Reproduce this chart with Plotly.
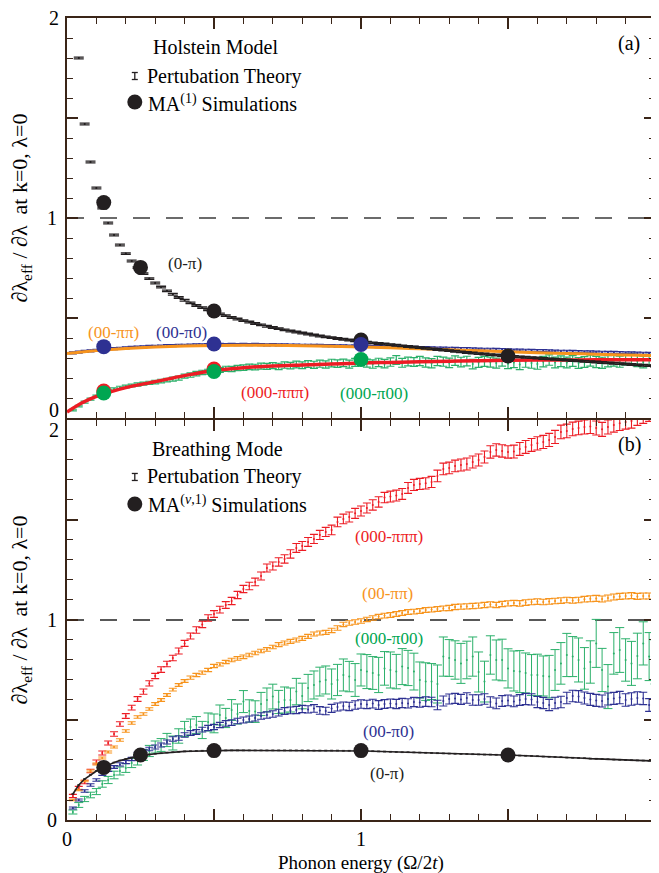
import plotly.graph_objects as go

# ---------------- data ----------------
phonon = [round(0.02 * k, 2) for k in range(1, 101)]  # PT sampling grid 0.02..2.00

# Panel (a) Holstein model
hol_black_pt = [None, 1.80, 1.47, 1.28, 1.15, 1.05, 0.975, 0.915, 0.865, 0.822,
                0.785, 0.752, 0.722, 0.697, 0.675, 0.655, 0.636, 0.619, 0.603, 0.589,
                0.576, 0.563, 0.552, 0.541, 0.531, 0.521, 0.512, 0.503, 0.495, 0.487,
                0.480, 0.473, 0.466, 0.459, 0.453, 0.447, 0.441, 0.435, 0.430, 0.425,
                0.420, 0.415, 0.410, 0.406, 0.402, 0.398, 0.394, 0.390, 0.386, 0.382,
                0.379, 0.376, 0.373, 0.370, 0.367, 0.364, 0.361, 0.358, 0.355, 0.352,
                0.349, 0.346, 0.343, 0.340, 0.337, 0.334, 0.331, 0.328, 0.325, 0.322,
                0.320, 0.317, 0.315, 0.312, 0.310, 0.308, 0.306, 0.304, 0.302, 0.300,
                0.298, 0.296, 0.294, 0.292, 0.290, 0.288, 0.286, 0.284, 0.282, 0.280,
                0.278, 0.276, 0.274, 0.272, 0.270, 0.268, 0.266, 0.264, 0.262, 0.260]

hol_blue_pt = [0.326, 0.330, 0.333, 0.336, 0.339, 0.342, 0.345, 0.347, 0.349, 0.351,
               0.353, 0.355, 0.356, 0.358, 0.359, 0.360, 0.362, 0.362, 0.364, 0.364,
               0.365, 0.366, 0.366, 0.367, 0.367, 0.368, 0.367, 0.368, 0.367, 0.368,
               0.367, 0.368, 0.367, 0.366, 0.367, 0.366, 0.366, 0.365, 0.365, 0.364,
               0.364, 0.363, 0.363, 0.362, 0.362, 0.361, 0.361, 0.360, 0.360, 0.359,
               0.358, 0.358, 0.357, 0.356, 0.356, 0.355, 0.354, 0.354, 0.353, 0.352,
               0.352, 0.351, 0.350, 0.350, 0.349, 0.348, 0.347, 0.347, 0.346, 0.345,
               0.344, 0.344, 0.343, 0.342, 0.341, 0.340, 0.340, 0.339, 0.338, 0.337,
               0.337, 0.336, 0.335, 0.334, 0.334, 0.333, 0.332, 0.331, 0.331, 0.330,
               0.329, 0.328, 0.328, 0.327, 0.326, 0.326, 0.325, 0.324, 0.323, 0.323]

hol_green_pt = [0.040, 0.060, 0.080, 0.095, 0.110, 0.125, 0.135, 0.145, 0.152, 0.158,
                0.163, 0.168, 0.172, 0.176, 0.180, 0.185, 0.190, 0.195, 0.200, 0.210,
                0.215, 0.222, 0.228, 0.232, 0.236, 0.240, 0.246, 0.245, 0.250, 0.252,
                0.256, 0.255, 0.260, 0.258, 0.262, 0.258, 0.265, 0.262, 0.268, 0.264,
                0.270, 0.266, 0.272, 0.268, 0.275, 0.272, 0.276, 0.270, 0.278, 0.282,
                0.275, 0.270, 0.278, 0.272, 0.280, 0.290, 0.276, 0.283, 0.280, 0.285,
                0.278, 0.274, 0.285, 0.282, 0.276, 0.287, 0.280, 0.285, 0.270, 0.278,
                0.283, 0.280, 0.275, 0.285, 0.272, 0.278, 0.268, 0.280, 0.275, 0.270,
                0.282, 0.290, 0.278, 0.284, 0.278, 0.285, 0.275, 0.280, 0.287, 0.280,
                0.276, 0.284, 0.288, 0.282, 0.292, 0.296, 0.285, 0.280, 0.290, 0.285]
hol_green_err = [0.004, 0.004, 0.005, 0.005, 0.005, 0.006, 0.006, 0.006, 0.007, 0.007,
                 0.007, 0.008, 0.008, 0.008, 0.009, 0.009, 0.009, 0.010, 0.010, 0.010,
                 0.011, 0.011, 0.011, 0.012, 0.012, 0.012, 0.013, 0.013, 0.013, 0.014,
                 0.014, 0.014, 0.015, 0.015, 0.015, 0.016, 0.016, 0.016, 0.017, 0.017,
                 0.017, 0.018, 0.018, 0.018, 0.019, 0.019, 0.019, 0.020, 0.020, 0.020,
                 0.020, 0.021, 0.021, 0.021, 0.021, 0.022, 0.022, 0.022, 0.022, 0.023,
                 0.023, 0.023, 0.023, 0.023, 0.024, 0.024, 0.024, 0.024, 0.024, 0.025,
                 0.025, 0.025, 0.025, 0.025, 0.025, 0.026, 0.026, 0.026, 0.026, 0.026,
                 0.026, 0.026, 0.027, 0.027, 0.027, 0.027, 0.027, 0.027, 0.027, 0.028,
                 0.028, 0.028, 0.028, 0.028, 0.028, 0.028, 0.028, 0.029, 0.029, 0.029]

line_x = [0, 0.05, 0.1, 0.15, 0.2, 0.3, 0.4, 0.5, 0.6, 0.7, 0.8, 0.9, 1.0,
          1.1, 1.2, 1.3, 1.4, 1.5, 1.6, 1.7, 1.8, 1.9, 2.0]
hol_orange_line = [0.322, 0.330, 0.337, 0.343, 0.348, 0.355, 0.360, 0.363, 0.364, 0.364,
                   0.362, 0.359, 0.355, 0.351, 0.346, 0.341, 0.336, 0.332, 0.327, 0.323,
                   0.319, 0.315, 0.312]
hol_red_line = [0.030, 0.075, 0.108, 0.132, 0.152, 0.182, 0.212, 0.238, 0.252, 0.260,
                0.265, 0.270, 0.275, 0.278, 0.281, 0.284, 0.287, 0.289, 0.290, 0.290,
                0.291, 0.291, 0.292]

ma_black_x = [0.125, 0.25, 0.5, 1.0, 1.5]
hol_ma_black = [1.077, 0.753, 0.535, 0.39, 0.31]
ma_three_x = [0.125, 0.5, 1.0]
hol_ma_blue = [0.357, 0.37, 0.368]
hol_ma_green = [0.125, 0.233, 0.293]
ma_two_x = [0.125, 0.5]
hol_ma_red = [0.135, 0.245]

# Panel (b) Breathing mode
br_red_pt = [0.12, 0.16, 0.19, 0.245, 0.29, 0.335, 0.385, 0.43, 0.48, 0.52,
             0.562, 0.605, 0.642, 0.683, 0.72, 0.752, 0.78, 0.81, 0.845, 0.883,
             0.92, 0.95, 0.978, 1.01, 1.03, 1.052, 1.075, 1.095, 1.125, 1.155,
             1.17, 1.19, 1.22, 1.26, 1.27, 1.29, 1.305, 1.33, 1.36, 1.37,
             1.39, 1.405, 1.425, 1.44, 1.45, 1.49, 1.505, 1.515, 1.533, 1.545,
             1.56, 1.575, 1.59, 1.612, 1.617, 1.622, 1.63, 1.66, 1.675, 1.68,
             1.683, 1.69, 1.72, 1.755, 1.76, 1.77, 1.775, 1.78, 1.79, 1.80,
             1.815, 1.84, 1.85, 1.845, 1.84, 1.842, 1.855, 1.865, 1.875, 1.883,
             1.89, 1.90, 1.915, 1.94, 1.945, 1.955, 1.96, 1.965, 1.967, 1.96,
             1.953, 1.965, 1.975, 1.983, 1.99, 1.995, 2.01, 2.02, 2.03, 2.04]
br_red_err = [0.008, 0.008, 0.009, 0.009, 0.010, 0.010, 0.010, 0.011, 0.011, 0.012,
              0.012, 0.012, 0.013, 0.013, 0.013, 0.014, 0.014, 0.014, 0.015, 0.015,
              0.015, 0.016, 0.016, 0.016, 0.017, 0.017, 0.017, 0.018, 0.018, 0.018,
              0.019, 0.019, 0.020, 0.020, 0.020, 0.021, 0.021, 0.021, 0.022, 0.022,
              0.022, 0.023, 0.023, 0.023, 0.024, 0.024, 0.024, 0.025, 0.025, 0.025,
              0.025, 0.026, 0.026, 0.026, 0.027, 0.027, 0.027, 0.027, 0.028, 0.028,
              0.028, 0.028, 0.029, 0.029, 0.029, 0.029, 0.030, 0.030, 0.030, 0.030,
              0.030, 0.031, 0.031, 0.031, 0.031, 0.032, 0.032, 0.032, 0.032, 0.033,
              0.033, 0.033, 0.033, 0.034, 0.034, 0.034, 0.034, 0.035, 0.035, 0.035,
              0.035, 0.035, 0.036, 0.036, 0.036, 0.036, 0.037, 0.037, 0.037, 0.037]

br_orange_pt = [0.10, 0.15, 0.195, 0.245, 0.28, 0.31, 0.34, 0.365, 0.40, 0.445,
                0.485, 0.515, 0.53, 0.555, 0.58, 0.60, 0.625, 0.652, 0.675, 0.695,
                0.712, 0.725, 0.737, 0.75, 0.77, 0.778, 0.79, 0.80, 0.808, 0.816,
                0.825, 0.835, 0.845, 0.853, 0.865, 0.877, 0.885, 0.893, 0.90, 0.908,
                0.918, 0.93, 0.935, 0.938, 0.948, 0.96, 0.978, 0.985, 0.99, 0.995,
                1.003, 1.01, 1.017, 1.022, 1.025, 1.03, 1.035, 1.04, 1.042, 1.045,
                1.05, 1.052, 1.055, 1.058, 1.06, 1.065, 1.067, 1.068, 1.07, 1.072,
                1.075, 1.078, 1.075, 1.08, 1.083, 1.085, 1.083, 1.087, 1.09, 1.092,
                1.09, 1.093, 1.095, 1.097, 1.10, 1.098, 1.10, 1.104, 1.106, 1.108,
                1.105, 1.11, 1.115, 1.118, 1.12, 1.122, 1.118, 1.12, 1.12, 1.117]
br_orange_err = [0.004, 0.004, 0.004, 0.005, 0.005, 0.005, 0.005, 0.005, 0.006, 0.006,
                 0.006, 0.006, 0.006, 0.006, 0.007, 0.007, 0.007, 0.007, 0.007, 0.007,
                 0.008, 0.008, 0.008, 0.008, 0.008, 0.008, 0.008, 0.009, 0.009, 0.009,
                 0.009, 0.009, 0.009, 0.009, 0.009, 0.010, 0.010, 0.010, 0.010, 0.010,
                 0.010, 0.010, 0.010, 0.010, 0.011, 0.011, 0.011, 0.011, 0.011, 0.011,
                 0.011, 0.011, 0.011, 0.012, 0.012, 0.012, 0.012, 0.012, 0.012, 0.012,
                 0.012, 0.012, 0.012, 0.012, 0.013, 0.013, 0.013, 0.013, 0.013, 0.013,
                 0.013, 0.013, 0.013, 0.013, 0.013, 0.013, 0.014, 0.014, 0.014, 0.014,
                 0.014, 0.014, 0.014, 0.014, 0.014, 0.014, 0.014, 0.014, 0.015, 0.015,
                 0.015, 0.015, 0.015, 0.015, 0.015, 0.015, 0.015, 0.015, 0.015, 0.015]

br_green_pt = [0.04, 0.075, 0.105, 0.125, 0.142, 0.18, 0.20, 0.225, 0.245, 0.26,
               0.285, 0.30, 0.325, 0.345, 0.365, 0.375, 0.40, 0.385, 0.42, 0.455,
               0.465, 0.475, 0.45, 0.49, 0.483, 0.525, 0.51, 0.55, 0.53, 0.592,
               0.545, 0.542, 0.58, 0.60, 0.617, 0.59, 0.60, 0.60, 0.642, 0.62,
               0.66, 0.675, 0.692, 0.70, 0.68, 0.70, 0.725, 0.717, 0.70, 0.75,
               0.742, 0.735, 0.725, 0.758, 0.75, 0.742, 0.767, 0.76, 0.742, 0.70,
               0.692, 0.692, 0.68, 0.817, 0.81, 0.80, 0.783, 0.80, 0.817, 0.74,
               0.692, 0.825, 0.80, 0.80, 0.758, 0.745, 0.742, 0.735, 0.725, 0.725,
               0.72, 0.717, 0.75, 0.783, 0.825, 0.817, 0.80, 0.758, 0.79, 0.883,
               0.75, 0.667, 0.833, 0.85, 0.80, 0.783, 0.82, 0.883, 0.817, 0.79]
br_green_err = [0.010, 0.012, 0.013, 0.014, 0.015, 0.016, 0.018, 0.019, 0.020, 0.022,
                0.023, 0.025, 0.027, 0.028, 0.030, 0.032, 0.033, 0.035, 0.036, 0.038,
                0.040, 0.042, 0.043, 0.045, 0.047, 0.050, 0.048, 0.052, 0.050, 0.055,
                0.056, 0.054, 0.058, 0.060, 0.062, 0.058, 0.065, 0.060, 0.066, 0.064,
                0.068, 0.070, 0.072, 0.070, 0.075, 0.078, 0.080, 0.076, 0.082, 0.080,
                0.085, 0.082, 0.088, 0.084, 0.090, 0.086, 0.090, 0.088, 0.092, 0.090,
                0.094, 0.090, 0.095, 0.098, 0.092, 0.096, 0.100, 0.094, 0.098, 0.100,
                0.102, 0.096, 0.100, 0.104, 0.098, 0.100, 0.105, 0.100, 0.102, 0.104,
                0.100, 0.106, 0.102, 0.104, 0.108, 0.100, 0.110, 0.104, 0.106, 0.120,
                0.108, 0.110, 0.104, 0.112, 0.106, 0.110, 0.114, 0.108, 0.120, 0.110]

br_blue_pt = [0.06, 0.10, 0.145, 0.175, 0.20, 0.23, 0.25, 0.265, 0.278, 0.29,
              0.305, 0.33, 0.345, 0.355, 0.365, 0.375, 0.39, 0.405, 0.41, 0.425,
              0.435, 0.44, 0.452, 0.46, 0.465, 0.475, 0.483, 0.487, 0.495, 0.50,
              0.505, 0.51, 0.52, 0.525, 0.53, 0.537, 0.545, 0.548, 0.55, 0.555,
              0.553, 0.558, 0.548, 0.545, 0.558, 0.565, 0.57, 0.568, 0.575, 0.58,
              0.578, 0.582, 0.575, 0.58, 0.583, 0.58, 0.585, 0.583, 0.59, 0.588,
              0.592, 0.59, 0.575, 0.595, 0.605, 0.608, 0.603, 0.61, 0.60, 0.60,
              0.605, 0.59, 0.583, 0.595, 0.598, 0.593, 0.60, 0.605, 0.603, 0.59,
              0.585, 0.575, 0.585, 0.59, 0.61, 0.62, 0.618, 0.61, 0.603, 0.598,
              0.595, 0.605, 0.608, 0.612, 0.60, 0.605, 0.61, 0.608, 0.575, 0.558]
br_blue_err = [0.005, 0.005, 0.006, 0.006, 0.006, 0.007, 0.007, 0.007, 0.008, 0.008,
               0.008, 0.009, 0.009, 0.009, 0.010, 0.010, 0.010, 0.011, 0.011, 0.011,
               0.012, 0.012, 0.012, 0.013, 0.013, 0.013, 0.014, 0.014, 0.014, 0.015,
               0.015, 0.015, 0.016, 0.016, 0.016, 0.017, 0.017, 0.017, 0.018, 0.018,
               0.018, 0.019, 0.019, 0.019, 0.020, 0.020, 0.020, 0.021, 0.021, 0.021,
               0.021, 0.022, 0.022, 0.022, 0.022, 0.023, 0.023, 0.023, 0.023, 0.024,
               0.024, 0.024, 0.024, 0.025, 0.025, 0.025, 0.025, 0.026, 0.026, 0.026,
               0.026, 0.026, 0.027, 0.027, 0.027, 0.027, 0.027, 0.028, 0.028, 0.028,
               0.028, 0.028, 0.029, 0.029, 0.029, 0.029, 0.029, 0.030, 0.030, 0.030,
               0.030, 0.030, 0.030, 0.031, 0.031, 0.031, 0.031, 0.031, 0.032, 0.032]

br_black_pt = [0.13, 0.175, 0.205, 0.226, 0.245, 0.261, 0.275, 0.287, 0.297, 0.305,
               0.312, 0.318, 0.323, 0.328, 0.331, 0.334, 0.337, 0.339, 0.341, 0.343,
               0.344, 0.345, 0.346, 0.346, 0.347, 0.347, 0.348, 0.348, 0.348, 0.348,
               0.348, 0.348, 0.348, 0.348, 0.348, 0.348, 0.348, 0.348, 0.348, 0.348,
               0.348, 0.347, 0.347, 0.347, 0.347, 0.347, 0.346, 0.346, 0.346, 0.346,
               0.345, 0.344, 0.343, 0.342, 0.341, 0.340, 0.339, 0.339, 0.338, 0.337,
               0.336, 0.335, 0.334, 0.333, 0.332, 0.331, 0.330, 0.330, 0.329, 0.328,
               0.327, 0.327, 0.326, 0.325, 0.325, 0.324, 0.322, 0.321, 0.320, 0.319,
               0.317, 0.316, 0.315, 0.314, 0.312, 0.311, 0.310, 0.309, 0.307, 0.306,
               0.305, 0.304, 0.302, 0.301, 0.300, 0.299, 0.298, 0.297, 0.296, 0.295]

br_ma_black = [0.263, 0.325, 0.347, 0.347, 0.325]

tick_vals = [0, 0.5, 1, 1.5, 2]
unity = [1, 1]
unity_x = [0, 2]

# ---------------- style ----------------
FONT = "Liberation Serif"
AX = "#3a2518"
BLACK = "#231f20"
RED = "#ed1c24"
ORANGE = "#f7941d"
BLUE = "#2e3192"
GREEN = "#00a651"
GREEN_L = "#2bb06a"

fig = go.Figure()


def pt(x, y, err, color, xa, ya, cap, thick=1.2, mode="markers", lw=1.5, const=None):
    ed = dict(type="constant", value=const) if const is not None else dict(type="data", array=err)
    ed.update(color=color, thickness=thick, width=cap, visible=True)
    fig.add_trace(go.Scatter(x=x, y=y, mode=mode, xaxis=xa, yaxis=ya,
                             marker=dict(size=2, color=color),
                             line=dict(color=color, width=lw),
                             error_y=ed, showlegend=False, hoverinfo="skip"))


def dots(x, y, color, xa, ya):
    fig.add_trace(go.Scatter(x=x, y=y, mode="markers", xaxis=xa, yaxis=ya,
                             marker=dict(size=15, color=color, line=dict(width=0)),
                             showlegend=False, hoverinfo="skip"))


def line(x, y, color, xa, ya, w=3):
    fig.add_trace(go.Scatter(x=x, y=y, mode="lines", xaxis=xa, yaxis=ya,
                             line=dict(color=color, width=w, shape="spline"),
                             showlegend=False, hoverinfo="skip"))


# ---- panel (a) ----
fig.add_trace(go.Scatter(x=unity_x, y=unity, mode="lines", xaxis="x", yaxis="y",
                         line=dict(color="#6b6b6b", width=2, dash="17px,16px"),
                         showlegend=False, hoverinfo="skip"))
pt(phonon, hol_green_pt, hol_green_err, GREEN_L, "x", "y", 4, thick=1.2)
pt(phonon, hol_blue_pt, None, BLUE, "x", "y", 4, thick=1.2, const=0.005)
line(line_x, hol_orange_line, ORANGE, "x", "y", w=3)
line(line_x, hol_red_line, RED, "x", "y", w=3.5)
pt(phonon, hol_black_pt, None, BLACK, "x", "y", 5, thick=1.3, const=0.004)
dots(ma_black_x, hol_ma_black, BLACK, "x", "y")
dots(ma_three_x, hol_ma_blue, BLUE, "x", "y")
dots(ma_two_x, hol_ma_red, RED, "x", "y")
dots(ma_three_x, hol_ma_green, GREEN, "x", "y")

# ---- panel (b) ----
fig.add_trace(go.Scatter(x=unity_x, y=unity, mode="lines", xaxis="x2", yaxis="y2",
                         line=dict(color="#222222", width=1.5, dash="17px,16px"),
                         showlegend=False, hoverinfo="skip"))
pt(phonon, br_red_pt, br_red_err, RED, "x2", "y2", 4, thick=1.1)
pt(phonon, br_orange_pt, br_orange_err, ORANGE, "x2", "y2", 4, thick=1.1)
pt(phonon, br_green_pt, br_green_err, GREEN_L, "x2", "y2", 4.5, thick=1.0)
pt(phonon, br_blue_pt, br_blue_err, BLUE, "x2", "y2", 4, thick=1.1)
pt(phonon, br_black_pt, None, BLACK, "x2", "y2", 1.5, thick=0.8, mode="lines", lw=1.6, const=0.002)
dots(ma_black_x, br_ma_black, BLACK, "x2", "y2")

# ---------------- axes ----------------
def axis(**kw):
    d = dict(range=[0, 2], showline=True, linecolor=AX, linewidth=2, mirror="allticks",
             ticks="inside", ticklen=11, tickwidth=1.5, tickcolor=AX,
             tickmode="array", tickvals=tick_vals,
             minor=dict(dtick=0.1, tick0=0, ticklen=6, tickwidth=1.2, tickcolor=AX, ticks="inside"),
             showgrid=False, zeroline=False,
             tickfont=dict(family=FONT, size=20, color="black"))
    d.update(kw)
    return d


# page body has an 8px default margin: figure sized so the plot lands where the reference has it
fig.update_layout(
    width=651, height=865,
    margin=dict(l=59, r=2, t=10, b=53),
    paper_bgcolor="white", plot_bgcolor="white",
    xaxis=axis(domain=[0, 1], anchor="y", showticklabels=False, matches="x2"),
    yaxis=axis(domain=[0.5012, 1], anchor="x", ticktext=["", "", "1", "", ""],
               ticklabelstandoff=4),
    xaxis2=axis(domain=[0, 1], anchor="y2", ticktext=["0", "", "1", "", ""]),
    yaxis2=axis(domain=[0, 0.4988], anchor="x2", ticktext=["0", "", "1", "", ""],
                ticklabelstandoff=4),
)

ann = []


def A(text, x, y, xref, yref, size=20, color="black", xanchor="center", **kw):
    ann.append(dict(text=text, x=x, y=y, xref=xref, yref=yref, showarrow=False,
                    xanchor=xanchor, yanchor="middle",
                    font=dict(family=FONT, size=size, color=color), **kw))


# edge tick labels (placed as text so they are not dropped at the page border)
A("2", -0.022, 2, "paper", "y", yshift=0)
A("0", -0.022, 0, "paper", "y", yshift=8)
A("2", -0.022, 2, "paper", "y2", yshift=-10)
A("2", 0.993, -0.021, "paper", "paper", xanchor="left")

# axis titles
ytitle = "∂λ<sub>eff</sub> / ∂λ  at k=0, λ=0"
A(ytitle, -0.0775, 0.525, "paper", "y domain", size=22, textangle=-90)
A(ytitle, -0.0775, 0.525, "paper", "y2 domain", size=22, textangle=-90)
A("Phonon energy (Ω/2<i>t</i>)", 0.5, -0.054, "paper", "paper", size=19)

# legends (a)
A("Holstein Model", 0.2525, 0.928, "x domain", "y domain")
A("Pertubation Theory", 0.133, 0.855, "x domain", "y domain", xanchor="left")
A("MA<sup>(1)</sup> Simulations", 0.135, 0.7875, "x domain", "y domain", xanchor="left")
A("(a)", 0.956, 0.9375, "x domain", "y domain")
# legends (b)
A("Breathing Mode", 0.256, 0.925, "x2 domain", "y2 domain")
A("Pertubation Theory", 0.133, 0.858, "x2 domain", "y2 domain", xanchor="left")
A("MA<sup>(<i>ν</i>,1)</sup> Simulations", 0.135, 0.79, "x2 domain", "y2 domain", xanchor="left")
A("(b)", 0.956, 0.9375, "x2 domain", "y2 domain")

# curve labels (a)
A("(0-π)", 0.403, 0.775, "x", "y", size=17, color=BLACK)
A("(00-ππ)", 0.159, 0.43, "x", "y", size=17, color=ORANGE)
A("(00-π0)", 0.389, 0.43, "x", "y", size=17, color=BLUE)
A("(000-πππ)", 0.708, 0.13, "x", "y", size=17, color=RED)
A("(000-π00)", 1.044, 0.123, "x", "y", size=17, color=GREEN)
# curve labels (b)
A("(000-πππ)", 1.095, 1.417, "x2", "y2", size=17, color=RED)
A("(00-ππ)", 1.09, 1.133, "x2", "y2", size=17, color=ORANGE)
A("(000-π00)", 1.095, 0.908, "x2", "y2", size=17, color=GREEN)
A("(00-π0)", 1.093, 0.442, "x2", "y2", size=17, color=BLUE)
A("(0-π)", 1.09, 0.233, "x2", "y2", size=17, color=BLACK)

fig.update_layout(annotations=ann)

# legend key glyphs (error-bar icon and filled circle)
shapes = []
for xr, yr, ybar, ydot in (("x domain", "y domain", 0.855, 0.79),
                           ("x2 domain", "y2 domain", 0.8575, 0.79)):
    common = dict(xref=xr, yref=yr, xsizemode="pixel", ysizemode="pixel",
                  xanchor=0.1153, line=dict(color=BLACK, width=1.3))
    shapes.append(dict(type="line", x0=0, x1=0, yanchor=ybar, y0=-3.5, y1=3.5, **common))
    shapes.append(dict(type="line", x0=-3, x1=3, yanchor=ybar, y0=3.5, y1=3.5, **common))
    shapes.append(dict(type="line", x0=-3, x1=3, yanchor=ybar, y0=-3.5, y1=-3.5, **common))
    shapes.append(dict(type="circle", xref=xr, yref=yr, xsizemode="pixel", ysizemode="pixel",
                       xanchor=0.1153, yanchor=ydot, x0=-7.5, x1=7.5, y0=-7.5, y1=7.5,
                       fillcolor=BLACK, line=dict(width=0)))
fig.update_layout(shapes=shapes)

fig.write_html("out.html")
